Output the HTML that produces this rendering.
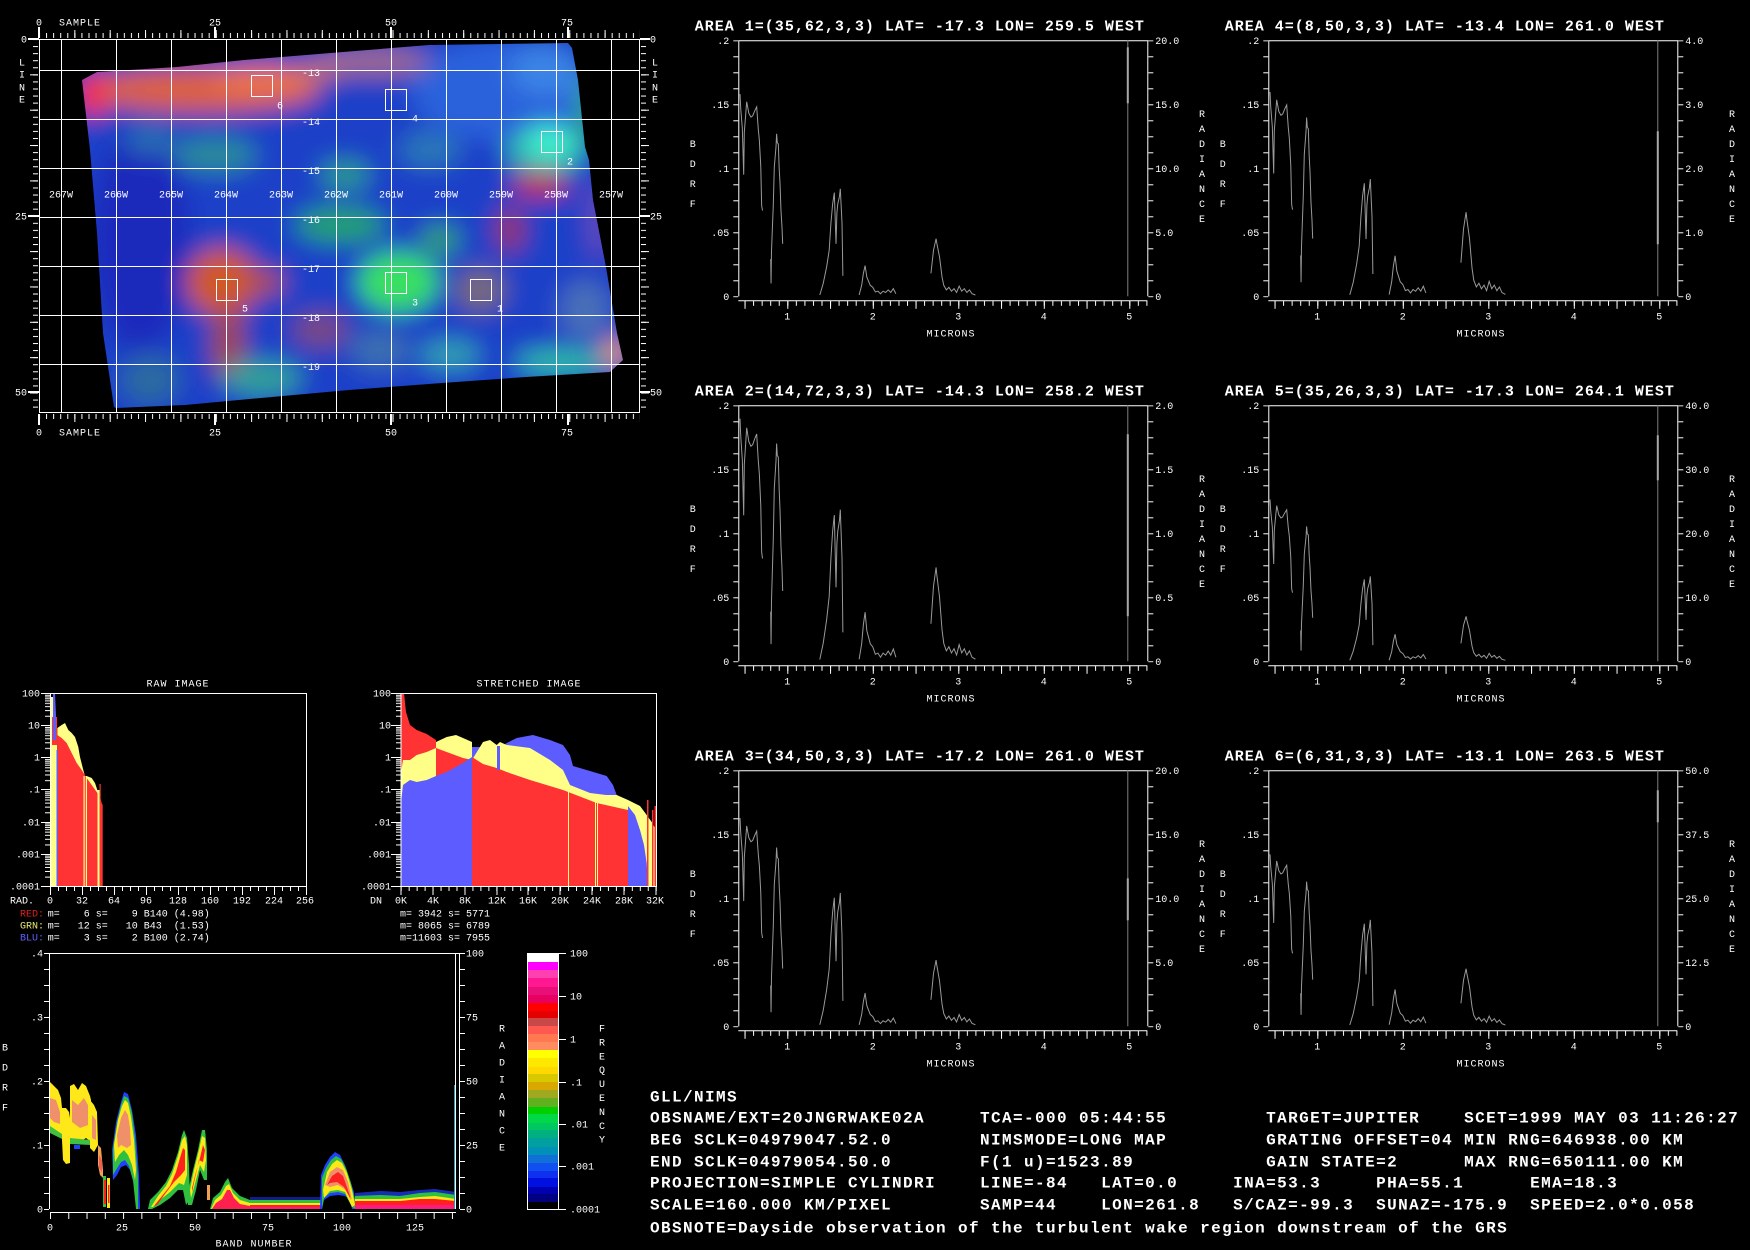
<!DOCTYPE html>
<html><head><meta charset="utf-8"><style>
html,body{margin:0;padding:0;background:#000;width:1750px;height:1250px;overflow:hidden}
svg{display:block}
.s{font-family:"Liberation Mono",monospace;font-size:10px;fill:#fff}
.a{font-family:"Liberation Mono",monospace;font-size:10px;fill:#fff;letter-spacing:1px}
.t{font-family:"Liberation Mono",monospace;font-size:15px;font-weight:bold;fill:#fff;letter-spacing:1px}
.b{font-family:"Liberation Mono",monospace;font-size:16px;font-weight:bold;fill:#fff;letter-spacing:1.4px;white-space:pre}
.m{text-anchor:middle}
.e{text-anchor:end}
.p{white-space:pre}
</style></head><body>
<svg width="1750" height="1250" viewBox="0 0 1750 1250" xmlns="http://www.w3.org/2000/svg">
<defs>
<filter id="blur" x="-10%" y="-10%" width="120%" height="120%"><feGaussianBlur stdDeviation="12"/></filter>
<clipPath id="imgclip"><polygon points="82,80 97,72 177,67 244,60 269,58 343,52 429,45 568,43 572,48 578,80 585,147 589,160 593,200 606,267 617,333 623,360 610,372 526,377 442,383 349,390 261,398 185,405 116,408 114,407 103,333 97,233 90,150"/></clipPath>
<pattern id="ptx7" x="39" y="0" width="7.07" height="20" patternUnits="userSpaceOnUse"><rect width="1" height="20" fill="#fff"/></pattern>
<pattern id="ptx35" x="39" y="0" width="35.35" height="20" patternUnits="userSpaceOnUse"><rect width="1" height="20" fill="#fff"/></pattern>
<pattern id="pty7" x="0" y="39" width="20" height="7.07" patternUnits="userSpaceOnUse"><rect width="20" height="1" fill="#fff"/></pattern>
<pattern id="pty35" x="0" y="39" width="20" height="35.35" patternUnits="userSpaceOnUse"><rect width="20" height="1" fill="#fff"/></pattern>
<pattern id="py" x="0" y="0" width="20" height="16" patternUnits="userSpaceOnUse"><rect width="20" height="1" fill="#fff"/></pattern>
<pattern id="px" x="6.25" y="0" width="8.55" height="20" patternUnits="userSpaceOnUse"><rect width="1" height="20" fill="#fff"/></pattern>
<pattern id="pxl" x="6.25" y="0" width="42.75" height="20" patternUnits="userSpaceOnUse"><rect width="1" height="20" fill="#fff"/></pattern>
<pattern id="plog" x="0" y="693.3" width="20" height="32.17" patternUnits="userSpaceOnUse">
<rect y="1.47" width="20" height="1" fill="#fff"/><rect y="3.12" width="20" height="1" fill="#fff"/><rect y="4.98" width="20" height="1" fill="#fff"/><rect y="7.1" width="20" height="1" fill="#fff"/><rect y="9.65" width="20" height="1" fill="#fff"/><rect y="12.8" width="20" height="1" fill="#fff"/><rect y="16.82" width="20" height="1" fill="#fff"/><rect y="22.48" width="20" height="1" fill="#fff"/></pattern>
<pattern id="phr" x="50" y="0" width="8" height="20" patternUnits="userSpaceOnUse"><rect width="1" height="20" fill="#fff"/></pattern>
<pattern id="phs" x="400.7" y="0" width="7.97" height="20" patternUnits="userSpaceOnUse"><rect width="1" height="20" fill="#fff"/></pattern>
<pattern id="pdy" x="0" y="953" width="20" height="16" patternUnits="userSpaceOnUse"><rect width="20" height="1" fill="#fff"/></pattern>
<pattern id="pdx" x="50" y="0" width="18.27" height="20" patternUnits="userSpaceOnUse"><rect width="1" height="20" fill="#fff"/></pattern>
<path id="c1a" vector-effect="non-scaling-stroke" d="M0.447,0.158 L0.455,0.147 L0.474,0.131 L0.49,0.095 L0.497,0.128 L0.525,0.152 L0.55,0.143 L0.575,0.14 L0.595,0.141 L0.62,0.145 L0.642,0.148 L0.66,0.131 L0.673,0.122 L0.69,0.101 L0.70,0.071 L0.71,0.067"/>
<path id="c1b" vector-effect="non-scaling-stroke" d="M0.806,0.029 L0.81,0.010 L0.815,0.035 L0.836,0.071 L0.848,0.101 L0.868,0.117 L0.875,0.127 L0.883,0.12 L0.895,0.119 L0.905,0.1 L0.915,0.088 L0.926,0.067 L0.938,0.054 L0.946,0.041"/>
<path id="c2" vector-effect="non-scaling-stroke" d="M1.38,0.001 L1.42,0.01 L1.46,0.023 L1.49,0.036 L1.51,0.057 L1.53,0.072 L1.55,0.081 L1.57,0.041 L1.58,0.065 L1.59,0.072 L1.61,0.078 L1.62,0.084 L1.64,0.057 L1.65,0.016"/>
<path id="c3" vector-effect="non-scaling-stroke" d="M1.84,0.001 L1.87,0.0086 L1.89,0.018 L1.91,0.024 L1.93,0.015 L1.97,0.0086 L2.0,0.007 L2.03,0.0034 L2.06,0.004 L2.09,0.002 L2.12,0.004 L2.15,0.003 L2.18,0.005 L2.21,0.003 L2.24,0.006 L2.27,0.002"/>
<path id="c4" vector-effect="non-scaling-stroke" d="M2.68,0.018 L2.71,0.036 L2.74,0.045 L2.75,0.041 L2.78,0.031 L2.81,0.015 L2.83,0.0086 L2.86,0.005 L2.89,0.007 L2.92,0.004 L2.95,0.006 L2.98,0.003 L3.01,0.008 L3.04,0.004 L3.07,0.006 L3.10,0.003 L3.13,0.005 L3.16,0.002 L3.2,0.001"/>
</defs>
<rect width="1750" height="1250" fill="#000"/>

<!-- ============ MAIN IMAGE ============ -->
<g clip-path="url(#imgclip)"><g filter="url(#blur)">
<rect x="50" y="20" width="610" height="420" fill="#1f3fc8"/>
<ellipse cx="140" cy="240" rx="50" ry="110" fill="#1a2cbc"/>
<ellipse cx="500" cy="90" rx="90" ry="50" fill="#2a62dc"/>
<ellipse cx="545" cy="70" rx="35" ry="25" fill="#3a84e6"/>
<ellipse cx="200" cy="90" rx="120" ry="22" fill="#dc603e"/>
<ellipse cx="92" cy="95" rx="14" ry="22" fill="#ff2a2a"/>
<ellipse cx="262" cy="80" rx="50" ry="15" fill="#ec7248"/>
<ellipse cx="375" cy="62" rx="55" ry="14" fill="#a06a8c"/>
<ellipse cx="320" cy="70" rx="25" ry="10" fill="#c07070"/>
<ellipse cx="586" cy="110" rx="7" ry="35" fill="#30c040"/>
<ellipse cx="545" cy="150" rx="40" ry="25" fill="#30b0b0"/>
<ellipse cx="550" cy="142" rx="24" ry="17" fill="#40f4cc"/>
<ellipse cx="540" cy="185" rx="28" ry="12" fill="#c42848"/>
<ellipse cx="510" cy="230" rx="14" ry="22" fill="#983060"/>
<ellipse cx="598" cy="220" rx="10" ry="40" fill="#6a4ab8"/>
<ellipse cx="215" cy="155" rx="42" ry="18" fill="#2a8a9a"/>
<ellipse cx="150" cy="140" rx="25" ry="14" fill="#2a70b0"/>
<ellipse cx="340" cy="225" rx="45" ry="18" fill="#22a070"/>
<ellipse cx="345" cy="175" rx="25" ry="15" fill="#2a9a8a"/>
<ellipse cx="440" cy="240" rx="20" ry="15" fill="#30a070"/>
<ellipse cx="430" cy="150" rx="30" ry="18" fill="#2a78b8"/>
<ellipse cx="398" cy="282" rx="40" ry="30" fill="#38e060"/>
<ellipse cx="222" cy="282" rx="36" ry="34" fill="#d05828"/>
<ellipse cx="265" cy="282" rx="20" ry="12" fill="#b05040"/>
<ellipse cx="228" cy="345" rx="16" ry="40" fill="#a04848"/>
<ellipse cx="262" cy="378" rx="40" ry="18" fill="#30a098"/>
<ellipse cx="320" cy="330" rx="28" ry="18" fill="#7a4880"/>
<ellipse cx="380" cy="350" rx="30" ry="20" fill="#3a70b0"/>
<ellipse cx="480" cy="290" rx="25" ry="22" fill="#786a78"/>
<ellipse cx="450" cy="355" rx="30" ry="15" fill="#30a0b0"/>
<ellipse cx="585" cy="310" rx="25" ry="30" fill="#4a70b8"/>
<ellipse cx="560" cy="362" rx="45" ry="12" fill="#30c0a0"/>
<ellipse cx="615" cy="352" rx="12" ry="14" fill="#f0a048"/>
<ellipse cx="150" cy="380" rx="30" ry="25" fill="#2a6aa0"/>
</g></g>

<!-- grid -->
<g stroke="#fff" stroke-width="1" fill="none">
<rect x="39.5" y="39.5" width="600" height="373"/>
<path d="M61.5,39V412 M116.5,39V412 M171.5,39V412 M226.5,39V412 M281.5,39V412 M336.5,39V412 M391.5,39V412 M446.5,39V412 M501.5,39V412 M556.5,39V412 M611.5,39V412"/>
<path d="M39,70.5H639 M39,119.5H639 M39,168.5H639 M39,217.5H639 M39,266.5H639 M39,315.5H639 M39,364.5H639"/>
<rect x="251.5" y="75.5" width="21" height="21"/>
<rect x="385.5" y="89.5" width="21" height="21"/>
<rect x="541.5" y="131.5" width="21" height="21"/>
<rect x="216.5" y="279.5" width="21" height="21"/>
<rect x="385.5" y="272.5" width="21" height="21"/>
<rect x="470.5" y="279.5" width="21" height="21"/>
</g>
<!-- rulers -->
<rect x="39" y="33" width="601" height="5" fill="url(#ptx7)"/>
<rect x="39" y="30" width="601" height="8" fill="url(#ptx35)"/>
<rect x="39" y="414" width="601" height="5" fill="url(#ptx7)"/>
<rect x="39" y="414" width="601" height="8" fill="url(#ptx35)"/>
<rect x="33" y="39" width="5" height="374" fill="url(#pty7)"/>
<rect x="30" y="39" width="8" height="374" fill="url(#pty35)"/>
<rect x="641" y="39" width="5" height="374" fill="url(#pty7)"/>
<rect x="641" y="39" width="8" height="374" fill="url(#pty35)"/>
<g fill="#fff">
<rect x="38" y="27" width="2" height="11"/><rect x="214" y="27" width="2" height="11"/><rect x="390" y="27" width="2" height="11"/><rect x="567" y="27" width="2" height="11"/>
<rect x="38" y="414" width="2" height="11"/><rect x="214" y="414" width="2" height="11"/><rect x="390" y="414" width="2" height="11"/><rect x="567" y="414" width="2" height="11"/>
<rect x="28" y="38" width="11" height="2"/><rect x="28" y="215" width="11" height="2"/><rect x="28" y="391" width="11" height="2"/>
<rect x="640" y="38" width="10" height="2"/><rect x="640" y="215" width="10" height="2"/><rect x="640" y="391" width="10" height="2"/>
</g>
<!-- image labels -->
<text class="s m" x="39" y="25.5">0</text><text class="a" x="59" y="25.5">SAMPLE</text>
<text class="s m" x="215" y="25.5">25</text><text class="s m" x="391" y="25.5">50</text><text class="s m" x="567" y="25.5">75</text>
<text class="s m" x="39" y="435.5">0</text><text class="a" x="59" y="435.5">SAMPLE</text>
<text class="s m" x="215" y="435.5">25</text><text class="s m" x="391" y="435.5">50</text><text class="s m" x="567" y="435.5">75</text>
<text class="s e" x="27" y="42.5">0</text><text class="s e" x="27" y="219.5">25</text><text class="s e" x="27" y="395.5">50</text>
<text class="s m" x="22" y="65.5">L</text><text class="s m" x="22" y="77.5">I</text><text class="s m" x="22" y="90.5">N</text><text class="s m" x="22" y="102.5">E</text>
<text class="s" x="650" y="42.5">0</text><text class="s" x="650" y="219.5">25</text><text class="s" x="650" y="395.5">50</text>
<text class="s m" x="655" y="65.5">L</text><text class="s m" x="655" y="77.5">I</text><text class="s m" x="655" y="90.5">N</text><text class="s m" x="655" y="102.5">E</text>
<g>
<text x="61" y="197.5" class="s m">267W</text><text x="116" y="197.5" class="s m">266W</text><text x="171" y="197.5" class="s m">265W</text><text x="226" y="197.5" class="s m">264W</text><text x="281" y="197.5" class="s m">263W</text><text x="336" y="197.5" class="s m">262W</text><text x="391" y="197.5" class="s m">261W</text><text x="446" y="197.5" class="s m">260W</text><text x="501" y="197.5" class="s m">259W</text><text x="556" y="197.5" class="s m">258W</text><text x="611" y="197.5" class="s m">257W</text>
<text x="311" y="76" class="s m">-13</text><text x="311" y="125" class="s m">-14</text><text x="311" y="174" class="s m">-15</text><text x="311" y="223" class="s m">-16</text><text x="311" y="272" class="s m">-17</text><text x="311" y="321" class="s m">-18</text><text x="311" y="370" class="s m">-19</text>
<text x="280" y="108.5" class="s m">6</text><text x="415" y="121.5" class="s m">4</text><text x="570" y="164.5" class="s m">2</text><text x="245" y="311.5" class="s m">5</text><text x="415" y="305.5" class="s m">3</text><text x="500" y="311.5" class="s m">1</text>
</g>

<!-- ============ RAW IMAGE HISTOGRAM ============ -->
<text class="a m" x="178" y="686.5">RAW IMAGE</text>
<rect x="50" y="697" width="3" height="189" fill="#ffff88"/>
<rect x="52" y="745" width="5" height="141" fill="#ffff88"/>
<rect x="52" y="717" width="5" height="28" fill="#ff3333"/>
<polygon points="53,740 53,693 55,693 56,715 56,740" fill="#5c5cff"/>
<path d="M57.3,886 L57.3,728 L61.7,725 L65,723 L68.3,730 L71.7,733 L75,737 L78.3,747 L80,757 L83.3,770 L85,776 L86.7,776 L91.7,778 L95,783 L97.7,791 L98.7,797 L98.7,886 Z" fill="#ffff88"/>
<path d="M57.3,886 L57.3,735 L61.7,738 L66.7,743 L71.7,753 L76.7,763 L81.7,770 L86.7,778 L91.7,785 L96.7,792 L100,797 L101.7,803 L102.7,805 L102.7,886 Z" fill="#ff3333"/>
<rect x="56.5" y="750" width="1.5" height="136" fill="#5c5cff"/>
<rect x="83.5" y="776" width="1.2" height="110" fill="#ffff88"/>
<rect x="85.8" y="776" width="1.2" height="110" fill="#ffff88"/>
<rect x="97.5" y="790" width="2" height="96" fill="#ffff88"/>
<rect x="99.5" y="784" width="1.2" height="20" fill="#ff3333"/>
<path d="M50.5,886 V693.5 H306.5 V886.5 H50" fill="none" stroke="#fff"/>
<rect x="45" y="693" width="5" height="194" fill="url(#plog)"/>
<path d="M41,693.5H50 M41,725.5H50 M41,757.5H50 M41,789.5H50 M41,822.5H50 M41,854.5H50 M41,886.5H50" stroke="#fff"/>
<rect x="50" y="886" width="257" height="5" fill="url(#phr)"/>
<path d="M50.5,886V895 M82.5,886V895 M114.5,886V895 M146.5,886V895 M178.5,886V895 M210.5,886V895 M242.5,886V895 M274.5,886V895 M306.5,886V895" stroke="#fff"/>
<text class="s e" x="40" y="696.5">100</text><text class="s e" x="40" y="728.5">10</text><text class="s e" x="40" y="760.5">1</text><text class="s e" x="40" y="792.5">.1</text><text class="s e" x="40" y="825.5">.01</text><text class="s e" x="40" y="857.5">.001</text><text class="s e" x="40" y="889.5">.0001</text>
<text class="s" x="10" y="903.5">RAD.</text>
<text class="s m" x="50" y="903.5">0</text><text class="s m" x="82" y="903.5">32</text><text class="s m" x="114" y="903.5">64</text><text class="s m" x="146" y="903.5">96</text><text class="s m" x="178" y="903.5">128</text><text class="s m" x="210" y="903.5">160</text><text class="s m" x="242" y="903.5">192</text><text class="s m" x="274" y="903.5">224</text><text class="s m" x="305" y="903.5">256</text>
<text class="s" x="20" y="916.5" style="fill:#e02020">RED:</text><text class="s p" xml:space="preserve" x="47.7" y="916.5">m=    6 s=    9 B140 (4.98)</text>
<text class="s" x="20" y="928.5" style="fill:#e8e870">GRN:</text><text class="s p" xml:space="preserve" x="47.7" y="928.5">m=   12 s=   10 B43  (1.53)</text>
<text class="s" x="20" y="940.5" style="fill:#6060ff">BLU:</text><text class="s p" xml:space="preserve" x="47.7" y="940.5">m=    3 s=    2 B100 (2.74)</text>

<!-- ============ STRETCHED HISTOGRAM ============ -->
<text class="a m" x="529" y="686.5">STRETCHED IMAGE</text>
<path d="M401,886 L401,693 L404,693 L406,712 L410,725 L416.7,730 L426.7,734 L436,740 L436,886 Z" fill="#ff3333"/>
<path d="M401,886 L401,773 L403,760 L410,760 L416.7,755 L426.7,752 L436,748 L436,886 Z" fill="#ffff88"/>
<path d="M401,886 L401,803 L403,785 L410,780 L416.7,782 L426.7,780 L436,776 L436,886 Z" fill="#5c5cff"/>
<path d="M436,886 L436,742 L446.7,737 L456,735 L463,738 L472,742 L472,886 Z" fill="#ffff88"/>
<path d="M436,886 L436,748 L446.7,752 L463,758 L472,760 L472,886 Z" fill="#ff3333"/>
<path d="M436,886 L436,776 L446.7,772 L463,763 L472,757 L472,886 Z" fill="#5c5cff"/>
<path d="M472,886 L472,747 L483,747 L490,748 L496.7,746 L500,748 L506.7,743 L516.7,738 L533,735 L550,740 L563,745 L570,755 L573,766 L590,771 L606.7,776 L613,785 L616.7,795 L628,806 L628,886 Z" fill="#5c5cff"/>
<path d="M472,886 L472,760 L483,742 L490,740 L496.7,745 L500,742 L506.7,745 L530,748 L550,760 L563,770 L570,785 L590,793 L606,795 L616.7,795 L628,800 L628,886 Z" fill="#ffff88"/>
<path d="M472,886 L472,757 L483,764 L496.7,768 L506.7,772 L530,780 L563,790 L596.7,803 L628,810 L628,886 Z" fill="#ff3333"/>
<rect x="497" y="746" width="3" height="24" fill="#5c5cff"/>
<rect x="568" y="790" width="1" height="96" fill="#ffff88"/><rect x="595" y="800" width="1" height="86" fill="#ffff88"/><rect x="597" y="800" width="1" height="86" fill="#ffff88"/>
<path d="M628,886 L628,800 L640,806 L646.7,815 L651.7,822 L656,830 L656,886 Z" fill="#ffff88"/>
<path d="M628,886 L628,806 L635,815 L640,830 L644,845 L646.7,863 L648,886 Z" fill="#5c5cff"/>
<rect x="647" y="800" width="1.5" height="86" fill="#ff3333"/><rect x="652" y="810" width="1.5" height="76" fill="#ff3333"/><rect x="654.5" y="806" width="1.5" height="80" fill="#ff3333"/>
<path d="M401,886 V693.5 H656.5 V886.5 H400.5" fill="none" stroke="#fff"/>
<rect x="396" y="693" width="5" height="194" fill="url(#plog)"/>
<path d="M391,693.5H401 M391,725.5H401 M391,757.5H401 M391,789.5H401 M391,822.5H401 M391,854.5H401 M391,886.5H401" stroke="#fff"/>
<rect x="400.7" y="886" width="257" height="5" fill="url(#phs)"/>
<path d="M401,886V895 M433,886V895 M465,886V895 M497,886V895 M528,886V895 M560,886V895 M592,886V895 M624,886V895 M656,886V895" stroke="#fff"/>
<text class="s e" x="391" y="696.5">100</text><text class="s e" x="391" y="728.5">10</text><text class="s e" x="391" y="760.5">1</text><text class="s e" x="391" y="792.5">.1</text><text class="s e" x="391" y="825.5">.01</text><text class="s e" x="391" y="857.5">.001</text><text class="s e" x="391" y="889.5">.0001</text>
<text class="s" x="370" y="903.5">DN</text>
<text class="s m" x="401" y="903.5">0K</text><text class="s m" x="433" y="903.5">4K</text><text class="s m" x="465" y="903.5">8K</text><text class="s m" x="497" y="903.5">12K</text><text class="s m" x="528" y="903.5">16K</text><text class="s m" x="560" y="903.5">20K</text><text class="s m" x="592" y="903.5">24K</text><text class="s m" x="624" y="903.5">28K</text><text class="s m" x="655" y="903.5">32K</text>
<text class="s p" xml:space="preserve" x="400" y="916.5">m= 3942 s= 5771</text>
<text class="s p" xml:space="preserve" x="400" y="928.5">m= 8065 s= 6789</text>
<text class="s p" xml:space="preserve" x="400" y="940.5">m=11603 s= 7955</text>

<!-- ============ DENSITY PLOT ============ -->
<g>
<polygon points="50,1082 54,1086 58,1090 61,1098 62,1108 62,1136 58,1134 54,1132 50,1128" fill="#ffe81a"/>
<polygon points="50,1126 62,1134 62,1139 50,1133" fill="#40c040"/>
<polygon points="62,1108 66,1108 69,1112 70,1118 70,1163 66,1164 63,1160 62,1140" fill="#ffe81a"/>
<polygon points="70,1086 74,1084 78,1090 82,1083 86,1086 90,1096 91,1100 91,1142 86,1138 80,1142 75,1140 70,1140" fill="#ffe81a"/>
<polygon points="70,1138 91,1140 91,1145 70,1144" fill="#40c040"/>
<rect x="74" y="1145" width="6" height="4" fill="#2040ff"/>
<polygon points="90,1100 94,1105 97,1112 98,1145 94,1152 90,1148" fill="#ffe81a"/>
<polygon points="98,1145 101,1148 103,1170 103,1178 100,1175 98,1165" fill="#f0a050"/>
<polygon points="50,1098 56,1100 60,1112 60,1124 54,1122 50,1118" fill="#f0906a"/>
<polygon points="72,1100 78,1105 84,1098 88,1105 88,1125 80,1128 72,1122" fill="#f0906a"/>
<polygon points="92,1115 96,1120 96,1140 92,1138" fill="#f0906a"/>
<polygon points="99,1155 102,1160 102,1172 99,1168" fill="#f06050"/>
<rect x="103" y="1176" width="3" height="31" fill="#30c040"/>
<rect x="104" y="1180" width="2" height="24" fill="#ff2020"/>
<rect x="107" y="1178" width="3" height="30" fill="#ffe81a"/>
<rect x="108" y="1185" width="1.5" height="18" fill="#ff2020"/>
<polygon points="112,1150 116,1122 121,1102 124,1092 128,1094 132,1110 136,1135 139,1175 140,1209 137,1209 134,1185 130,1170 126,1165 121,1167 117,1175 113,1180" fill="#2040ff"/>
<polygon points="113,1148 117,1122 121,1105 124,1096 128,1098 132,1113 135,1138 138,1180 138,1209 136,1209 133,1180 129,1166 125,1160 121,1162 116,1170 113,1175" fill="#30c040"/>
<polygon points="114,1145 118,1120 122,1106 125,1100 128,1103 131,1117 134,1140 136,1170 135,1180 132,1165 128,1155 124,1150 119,1155 115,1162" fill="#ffe81a"/>
<polygon points="117,1135 121,1118 125,1110 128,1115 130,1128 131,1145 127,1148 121,1145 118,1148" fill="#f0906a"/>
<polygon points="148,1209 150,1200 158,1192 166,1182 172,1170 178,1152 182,1135 184,1130 187,1138 189,1165 190,1200 186,1205 183,1190 178,1190 170,1198 160,1205 152,1209" fill="#30c040"/>
<polygon points="151,1207 158,1196 166,1186 172,1174 178,1156 182,1140 185,1136 187,1145 187,1175 184,1185 179,1183 170,1192 160,1200 153,1207" fill="#ffe81a"/>
<polygon points="154,1206 162,1196 170,1186 176,1172 180,1158 183,1148 185,1150 185,1170 181,1175 174,1182 165,1194 157,1205" fill="#ff2020"/>
<polygon points="188,1192 193,1170 198,1150 202,1130 205,1130 207,1150 207,1180 204,1180 200,1170 196,1190 192,1205 188,1205" fill="#30c040"/>
<polygon points="190,1190 194,1170 199,1150 202,1136 205,1138 206,1160 204,1172 200,1165 196,1180 191,1198" fill="#ffe81a"/>
<polygon points="192,1188 196,1172 200,1158 203,1145 205,1150 203,1162 199,1160 195,1178 192,1192" fill="#ff2020"/>
<rect x="207" y="1185" width="3" height="15" fill="#f0a050"/>
<polygon points="210,1209 213,1198 220,1192 225,1182 228,1178 232,1188 240,1196 250,1200 250,1209" fill="#30c040"/>
<polygon points="211,1209 215,1200 221,1195 226,1186 229,1184 233,1193 240,1200 250,1203 250,1209" fill="#ffe81a"/>
<polygon points="212,1209 216,1203 222,1199 227,1190 230,1190 234,1198 240,1204 250,1206 250,1209" fill="#ff2050"/>
<rect x="250" y="1197" width="71" height="3" fill="#2030e0" opacity="0.6"/>
<rect x="250" y="1200" width="71" height="3" fill="#30c040"/>
<rect x="250" y="1203" width="71" height="2" fill="#ffe81a"/>
<rect x="250" y="1205" width="71" height="2" fill="#ff2020"/>
<rect x="250" y="1207" width="71" height="2" fill="#ff1a80"/>
<polygon points="320,1209 321,1175 325,1165 330,1157 335,1152 340,1155 345,1165 350,1180 354,1192 356,1209 352,1209 350,1200 345,1196 338,1195 330,1196 324,1200 322,1209" fill="#2040ff"/>
<polygon points="322,1209 322,1178 326,1168 331,1160 336,1156 341,1159 346,1168 351,1183 355,1200 355,1209 352,1207 345,1194 338,1192 330,1193 324,1198" fill="#30c040"/>
<polygon points="323,1190 327,1172 332,1164 337,1160 342,1163 347,1173 352,1190 355,1205 352,1207 345,1192 338,1190 330,1191 324,1198" fill="#ffe81a"/>
<polygon points="325,1185 330,1172 337,1167 343,1170 348,1182 352,1200 346,1190 338,1185 330,1187" fill="#f0906a"/>
<polygon points="327,1185 332,1176 338,1172 343,1176 348,1190 351,1200 344,1187 337,1182 330,1183" fill="#ff2020"/>
<polygon points="355,1193 380,1191 400,1192 420,1190 435,1189 456,1192 456,1209 355,1209" fill="#2040ff" opacity="0.7"/>
<polygon points="355,1196 380,1195 400,1196 420,1193 435,1192 456,1195 456,1209 355,1209" fill="#30c040"/>
<polygon points="355,1199 380,1199 400,1199 420,1197 435,1196 456,1199 456,1209 355,1209" fill="#ffe81a"/>
<polygon points="355,1201 380,1201 400,1201 420,1199 435,1199 456,1201 456,1209 355,1209" fill="#ff2020"/>
<polygon points="355,1205 456,1205 456,1209 355,1209" fill="#ff1a80"/>
<rect x="454" y="1085" width="1.5" height="124" fill="#20a0c0"/>
</g>
<path d="M49.5,1209 V953.5 H459.5 V1209 M455.5,953 V1209" fill="none" stroke="#fff"/>
<rect x="44" y="953" width="5" height="257" fill="url(#pdy)"/>
<rect x="460" y="953" width="5" height="257" fill="url(#pdy)"/>
<line x1="50" y1="1212.5" x2="456" y2="1212.5" stroke="#fff"/>
<rect x="50" y="1212" width="407" height="7" fill="url(#pdx)"/>
<text class="s e" x="43" y="956.5">.4</text><text class="s e" x="43" y="1020.5">.3</text><text class="s e" x="43" y="1084.5">.2</text><text class="s e" x="43" y="1148.5">.1</text><text class="s e" x="43" y="1212.5">0</text>
<text class="s" x="466" y="956.5">100</text><text class="s" x="466" y="1020.5">75</text><text class="s" x="466" y="1084.5">50</text><text class="s" x="466" y="1148.5">25</text><text class="s" x="466" y="1212.5">0</text>
<text class="s m" x="50" y="1230.5">0</text><text class="s m" x="122" y="1230.5">25</text><text class="s m" x="195" y="1230.5">50</text><text class="s m" x="268" y="1230.5">75</text><text class="s m" x="342" y="1230.5">100</text><text class="s m" x="415" y="1230.5">125</text>
<text class="a m" x="254" y="1246.5">BAND NUMBER</text>
<text class="s m" x="5" y="1050.5">B</text><text class="s m" x="5" y="1070.5">D</text><text class="s m" x="5" y="1090.5">R</text><text class="s m" x="5" y="1110.5">F</text>

<!-- ============ COLOR BAR ============ -->
<g>
<rect x="527" y="953" width="31" height="9" fill="#ffffff"/>
<rect x="527" y="962" width="31" height="8" fill="#ff00ff"/>
<rect x="527" y="970" width="31" height="8" fill="#ff40b0"/>
<rect x="527" y="978" width="31" height="9" fill="#ff1890"/>
<rect x="527" y="987" width="31" height="8" fill="#e81078"/>
<rect x="527" y="995" width="31" height="8" fill="#e80060"/>
<rect x="527" y="1003" width="31" height="8" fill="#ff0000"/>
<rect x="527" y="1011" width="31" height="7" fill="#e40000"/>
<rect x="527" y="1018" width="31" height="8" fill="#c84848"/>
<rect x="527" y="1026" width="31" height="8" fill="#ff5850"/>
<rect x="527" y="1034" width="31" height="8" fill="#ff7850"/>
<rect x="527" y="1042" width="31" height="8" fill="#ff8c60"/>
<rect x="527" y="1050" width="31" height="8" fill="#ffff00"/>
<rect x="527" y="1058" width="31" height="9" fill="#ffe800"/>
<rect x="527" y="1067" width="31" height="7" fill="#ffd800"/>
<rect x="527" y="1074" width="31" height="8" fill="#d8c800"/>
<rect x="527" y="1082" width="31" height="8" fill="#d8a800"/>
<rect x="527" y="1090" width="31" height="8" fill="#a0a820"/>
<rect x="527" y="1098" width="31" height="9" fill="#60b020"/>
<rect x="527" y="1107" width="31" height="7" fill="#00d000"/>
<rect x="527" y="1114" width="31" height="9" fill="#00d848"/>
<rect x="527" y="1123" width="31" height="7" fill="#00c860"/>
<rect x="527" y="1130" width="31" height="8" fill="#00b080"/>
<rect x="527" y="1138" width="31" height="9" fill="#00a0a0"/>
<rect x="527" y="1147" width="31" height="8" fill="#0090b8"/>
<rect x="527" y="1155" width="31" height="8" fill="#1070d8"/>
<rect x="527" y="1163" width="31" height="8" fill="#1050f0"/>
<rect x="527" y="1171" width="31" height="7" fill="#1030f0"/>
<rect x="527" y="1178" width="31" height="9" fill="#0010e0"/>
<rect x="527" y="1187" width="31" height="7" fill="#0000b0"/>
<rect x="527" y="1194" width="31" height="8" fill="#000080"/>
<rect x="527" y="1202" width="31" height="8" fill="#000000"/>
<rect x="527.5" y="953.5" width="31" height="256" fill="none" stroke="#fff"/>
<path d="M558,953.5H566 M558,996.5H566 M558,1039.5H566 M558,1082.5H566 M558,1124.5H566 M558,1166.5H566 M558,1209.5H566" stroke="#fff"/>
</g>
<text class="s" x="570" y="956.5">100</text><text class="s" x="570" y="999.5">10</text><text class="s" x="570" y="1042.5">1</text><text class="s" x="570" y="1085.5">.1</text><text class="s" x="570" y="1127.5">.01</text><text class="s" x="570" y="1169.5">.001</text><text class="s" x="570" y="1212.5">.0001</text>
<g>
<text class="s m" x="502" y="1031.5">R</text><text class="s m" x="502" y="1048.5">A</text><text class="s m" x="502" y="1065.5">D</text><text class="s m" x="502" y="1082.5">I</text><text class="s m" x="502" y="1099.5">A</text><text class="s m" x="502" y="1116.5">N</text><text class="s m" x="502" y="1133.5">C</text><text class="s m" x="502" y="1150.5">E</text>
<text class="s m" x="602" y="1031.5">F</text><text class="s m" x="602" y="1045.4">R</text><text class="s m" x="602" y="1059.3">E</text><text class="s m" x="602" y="1073.2">Q</text><text class="s m" x="602" y="1087.1">U</text><text class="s m" x="602" y="1101">E</text><text class="s m" x="602" y="1114.9">N</text><text class="s m" x="602" y="1128.8">C</text><text class="s m" x="602" y="1142.7">Y</text>
</g>

<!-- ============ SPECTRUM PANELS ============ -->
<g transform="translate(738.3,40.3)">
<path d="M0.5,256 V0.5 H409.5 V256" fill="none" stroke="#fff"/>
<rect x="-5" y="0" width="5" height="257" fill="url(#py)"/><rect x="410" y="0" width="5" height="257" fill="url(#py)"/>
<line x1="0" y1="260.5" x2="409" y2="260.5" stroke="#fff"/>
<rect x="0" y="260.5" width="410" height="5" fill="url(#px)"/><rect x="0" y="260.5" width="410" height="8" fill="url(#pxl)"/>
<line x1="389.5" y1="0" x2="389.5" y2="256" stroke="#808080"/><line x1="389.5" y1="7" x2="389.5" y2="63" stroke="#a8a8a8" stroke-width="2"/>
<g transform="translate(-36.5,256) scale(85.5,-1280)" fill="none" stroke="#fff" stroke-opacity="0.6" stroke-width="1">
<use href="#c1a"/><use href="#c1b"/><use href="#c2"/><use href="#c3"/><use href="#c4"/>
</g>
<text class="t" x="-43.5" y="-9.6">AREA 1=(35,62,3,3) LAT= -17.3 LON= 259.5 WEST</text>
<text class="s e" x="-9" y="3.5">.2</text><text class="s e" x="-9" y="67.5">.15</text><text class="s e" x="-9" y="131.5">.1</text><text class="s e" x="-9" y="195.5">.05</text><text class="s e" x="-9" y="259.5">0</text>
<text class="s" x="417" y="3.5">20.0</text><text class="s" x="417" y="67.5">15.0</text><text class="s" x="417" y="131.5">10.0</text><text class="s" x="417" y="195.5">5.0</text><text class="s" x="417" y="259.5">0</text>
<text class="s m" x="49" y="279">1</text><text class="s m" x="134.5" y="279">2</text><text class="s m" x="220" y="279">3</text><text class="s m" x="305.5" y="279">4</text><text class="s m" x="391" y="279">5</text>
<text class="a m" x="212.7" y="296">MICRONS</text>
<text class="s m" x="-45.6" y="106.5">B</text><text class="s m" x="-45.6" y="126.5">D</text><text class="s m" x="-45.6" y="146.5">R</text><text class="s m" x="-45.6" y="166.5">F</text>
<text class="s m" x="463.7" y="76.9">R</text><text class="s m" x="463.7" y="91.9">A</text><text class="s m" x="463.7" y="106.9">D</text><text class="s m" x="463.7" y="121.9">I</text><text class="s m" x="463.7" y="136.9">A</text><text class="s m" x="463.7" y="151.9">N</text><text class="s m" x="463.7" y="166.9">C</text><text class="s m" x="463.7" y="181.9">E</text>
</g>

<g transform="translate(1268.3,40.3)">
<path d="M0.5,256 V0.5 H409.5 V256" fill="none" stroke="#fff"/>
<rect x="-5" y="0" width="5" height="257" fill="url(#py)"/><rect x="410" y="0" width="5" height="257" fill="url(#py)"/>
<line x1="0" y1="260.5" x2="409" y2="260.5" stroke="#fff"/>
<rect x="0" y="260.5" width="410" height="5" fill="url(#px)"/><rect x="0" y="260.5" width="410" height="8" fill="url(#pxl)"/>
<line x1="389.5" y1="0" x2="389.5" y2="256" stroke="#808080"/><line x1="389.5" y1="91" x2="389.5" y2="204" stroke="#a8a8a8" stroke-width="2"/>
<g transform="translate(-36.5,256) scale(85.5,-1280)" fill="none" stroke="#fff" stroke-opacity="0.6" stroke-width="1">
<use href="#c1a" transform="scale(1,1.01)"/><use href="#c1b" transform="scale(1,1.1)"/><use href="#c2" transform="scale(1,1.09)"/><use href="#c3" transform="scale(1,1.32)"/><use href="#c4" transform="scale(1,1.46)"/>
</g>
<text class="t" x="-43.5" y="-9.6">AREA 4=(8,50,3,3) LAT= -13.4 LON= 261.0 WEST</text>
<text class="s e" x="-9" y="3.5">.2</text><text class="s e" x="-9" y="67.5">.15</text><text class="s e" x="-9" y="131.5">.1</text><text class="s e" x="-9" y="195.5">.05</text><text class="s e" x="-9" y="259.5">0</text>
<text class="s" x="417" y="3.5">4.0</text><text class="s" x="417" y="67.5">3.0</text><text class="s" x="417" y="131.5">2.0</text><text class="s" x="417" y="195.5">1.0</text><text class="s" x="417" y="259.5">0</text>
<text class="s m" x="49" y="279">1</text><text class="s m" x="134.5" y="279">2</text><text class="s m" x="220" y="279">3</text><text class="s m" x="305.5" y="279">4</text><text class="s m" x="391" y="279">5</text>
<text class="a m" x="212.7" y="296">MICRONS</text>
<text class="s m" x="-45.6" y="106.5">B</text><text class="s m" x="-45.6" y="126.5">D</text><text class="s m" x="-45.6" y="146.5">R</text><text class="s m" x="-45.6" y="166.5">F</text>
<text class="s m" x="463.7" y="76.9">R</text><text class="s m" x="463.7" y="91.9">A</text><text class="s m" x="463.7" y="106.9">D</text><text class="s m" x="463.7" y="121.9">I</text><text class="s m" x="463.7" y="136.9">A</text><text class="s m" x="463.7" y="151.9">N</text><text class="s m" x="463.7" y="166.9">C</text><text class="s m" x="463.7" y="181.9">E</text>
</g>

<g transform="translate(738.3,405.3)">
<path d="M0.5,256 V0.5 H409.5 V256" fill="none" stroke="#fff"/>
<rect x="-5" y="0" width="5" height="257" fill="url(#py)"/><rect x="410" y="0" width="5" height="257" fill="url(#py)"/>
<line x1="0" y1="260.5" x2="409" y2="260.5" stroke="#fff"/>
<rect x="0" y="260.5" width="410" height="5" fill="url(#px)"/><rect x="0" y="260.5" width="410" height="8" fill="url(#pxl)"/>
<line x1="389.5" y1="0" x2="389.5" y2="256" stroke="#808080"/><line x1="389.5" y1="29" x2="389.5" y2="211" stroke="#a8a8a8" stroke-width="2"/>
<g transform="translate(-36.5,256) scale(85.5,-1280)" fill="none" stroke="#fff" stroke-opacity="0.6" stroke-width="1">
<use href="#c1a" transform="scale(1,1.2)"/><use href="#c1b" transform="scale(1,1.34)"/><use href="#c2" transform="scale(1,1.41)"/><use href="#c3" transform="scale(1,1.6)"/><use href="#c4" transform="scale(1,1.63)"/>
</g>
<text class="t" x="-43.5" y="-9.6">AREA 2=(14,72,3,3) LAT= -14.3 LON= 258.2 WEST</text>
<text class="s e" x="-9" y="3.5">.2</text><text class="s e" x="-9" y="67.5">.15</text><text class="s e" x="-9" y="131.5">.1</text><text class="s e" x="-9" y="195.5">.05</text><text class="s e" x="-9" y="259.5">0</text>
<text class="s" x="417" y="3.5">2.0</text><text class="s" x="417" y="67.5">1.5</text><text class="s" x="417" y="131.5">1.0</text><text class="s" x="417" y="195.5">0.5</text><text class="s" x="417" y="259.5">0</text>
<text class="s m" x="49" y="279">1</text><text class="s m" x="134.5" y="279">2</text><text class="s m" x="220" y="279">3</text><text class="s m" x="305.5" y="279">4</text><text class="s m" x="391" y="279">5</text>
<text class="a m" x="212.7" y="296">MICRONS</text>
<text class="s m" x="-45.6" y="106.5">B</text><text class="s m" x="-45.6" y="126.5">D</text><text class="s m" x="-45.6" y="146.5">R</text><text class="s m" x="-45.6" y="166.5">F</text>
<text class="s m" x="463.7" y="76.9">R</text><text class="s m" x="463.7" y="91.9">A</text><text class="s m" x="463.7" y="106.9">D</text><text class="s m" x="463.7" y="121.9">I</text><text class="s m" x="463.7" y="136.9">A</text><text class="s m" x="463.7" y="151.9">N</text><text class="s m" x="463.7" y="166.9">C</text><text class="s m" x="463.7" y="181.9">E</text>
</g>

<g transform="translate(1268.3,405.3)">
<path d="M0.5,256 V0.5 H409.5 V256" fill="none" stroke="#fff"/>
<rect x="-5" y="0" width="5" height="257" fill="url(#py)"/><rect x="410" y="0" width="5" height="257" fill="url(#py)"/>
<line x1="0" y1="260.5" x2="409" y2="260.5" stroke="#fff"/>
<rect x="0" y="260.5" width="410" height="5" fill="url(#px)"/><rect x="0" y="260.5" width="410" height="8" fill="url(#pxl)"/>
<line x1="389.5" y1="0" x2="389.5" y2="256" stroke="#808080"/><line x1="389.5" y1="30" x2="389.5" y2="75" stroke="#a8a8a8" stroke-width="2"/>
<g transform="translate(-36.5,256) scale(85.5,-1280)" fill="none" stroke="#fff" stroke-opacity="0.6" stroke-width="1">
<use href="#c1a" transform="scale(1,0.8)"/><use href="#c1b" transform="scale(1,0.83)"/><use href="#c2" transform="scale(1,0.79)"/><use href="#c3" transform="scale(1,0.88)"/><use href="#c4" transform="scale(1,0.78)"/>
</g>
<text class="t" x="-43.5" y="-9.6">AREA 5=(35,26,3,3) LAT= -17.3 LON= 264.1 WEST</text>
<text class="s e" x="-9" y="3.5">.2</text><text class="s e" x="-9" y="67.5">.15</text><text class="s e" x="-9" y="131.5">.1</text><text class="s e" x="-9" y="195.5">.05</text><text class="s e" x="-9" y="259.5">0</text>
<text class="s" x="417" y="3.5">40.0</text><text class="s" x="417" y="67.5">30.0</text><text class="s" x="417" y="131.5">20.0</text><text class="s" x="417" y="195.5">10.0</text><text class="s" x="417" y="259.5">0</text>
<text class="s m" x="49" y="279">1</text><text class="s m" x="134.5" y="279">2</text><text class="s m" x="220" y="279">3</text><text class="s m" x="305.5" y="279">4</text><text class="s m" x="391" y="279">5</text>
<text class="a m" x="212.7" y="296">MICRONS</text>
<text class="s m" x="-45.6" y="106.5">B</text><text class="s m" x="-45.6" y="126.5">D</text><text class="s m" x="-45.6" y="146.5">R</text><text class="s m" x="-45.6" y="166.5">F</text>
<text class="s m" x="463.7" y="76.9">R</text><text class="s m" x="463.7" y="91.9">A</text><text class="s m" x="463.7" y="106.9">D</text><text class="s m" x="463.7" y="121.9">I</text><text class="s m" x="463.7" y="136.9">A</text><text class="s m" x="463.7" y="151.9">N</text><text class="s m" x="463.7" y="166.9">C</text><text class="s m" x="463.7" y="181.9">E</text>
</g>

<g transform="translate(738.3,770.3)">
<path d="M0.5,256 V0.5 H409.5 V256" fill="none" stroke="#fff"/>
<rect x="-5" y="0" width="5" height="257" fill="url(#py)"/><rect x="410" y="0" width="5" height="257" fill="url(#py)"/>
<line x1="0" y1="260.5" x2="409" y2="260.5" stroke="#fff"/>
<rect x="0" y="260.5" width="410" height="5" fill="url(#px)"/><rect x="0" y="260.5" width="410" height="8" fill="url(#pxl)"/>
<line x1="389.5" y1="0" x2="389.5" y2="256" stroke="#808080"/><line x1="389.5" y1="108" x2="389.5" y2="150" stroke="#a8a8a8" stroke-width="2"/>
<g transform="translate(-36.5,256) scale(85.5,-1280)" fill="none" stroke="#fff" stroke-opacity="0.6" stroke-width="1">
<use href="#c1a" transform="scale(1,1.03)"/><use href="#c1b" transform="scale(1,1.1)"/><use href="#c2" transform="scale(1,1.24)"/><use href="#c3" transform="scale(1,1.08)"/><use href="#c4" transform="scale(1,1.15)"/>
</g>
<text class="t" x="-43.5" y="-9.6">AREA 3=(34,50,3,3) LAT= -17.2 LON= 261.0 WEST</text>
<text class="s e" x="-9" y="3.5">.2</text><text class="s e" x="-9" y="67.5">.15</text><text class="s e" x="-9" y="131.5">.1</text><text class="s e" x="-9" y="195.5">.05</text><text class="s e" x="-9" y="259.5">0</text>
<text class="s" x="417" y="3.5">20.0</text><text class="s" x="417" y="67.5">15.0</text><text class="s" x="417" y="131.5">10.0</text><text class="s" x="417" y="195.5">5.0</text><text class="s" x="417" y="259.5">0</text>
<text class="s m" x="49" y="279">1</text><text class="s m" x="134.5" y="279">2</text><text class="s m" x="220" y="279">3</text><text class="s m" x="305.5" y="279">4</text><text class="s m" x="391" y="279">5</text>
<text class="a m" x="212.7" y="296">MICRONS</text>
<text class="s m" x="-45.6" y="106.5">B</text><text class="s m" x="-45.6" y="126.5">D</text><text class="s m" x="-45.6" y="146.5">R</text><text class="s m" x="-45.6" y="166.5">F</text>
<text class="s m" x="463.7" y="76.9">R</text><text class="s m" x="463.7" y="91.9">A</text><text class="s m" x="463.7" y="106.9">D</text><text class="s m" x="463.7" y="121.9">I</text><text class="s m" x="463.7" y="136.9">A</text><text class="s m" x="463.7" y="151.9">N</text><text class="s m" x="463.7" y="166.9">C</text><text class="s m" x="463.7" y="181.9">E</text>
</g>

<g transform="translate(1268.3,770.3)">
<path d="M0.5,256 V0.5 H409.5 V256" fill="none" stroke="#fff"/>
<rect x="-5" y="0" width="5" height="257" fill="url(#py)"/><rect x="410" y="0" width="5" height="257" fill="url(#py)"/>
<line x1="0" y1="260.5" x2="409" y2="260.5" stroke="#fff"/>
<rect x="0" y="260.5" width="410" height="5" fill="url(#px)"/><rect x="0" y="260.5" width="410" height="8" fill="url(#pxl)"/>
<line x1="389.5" y1="0" x2="389.5" y2="256" stroke="#808080"/><line x1="389.5" y1="20" x2="389.5" y2="52" stroke="#a8a8a8" stroke-width="2"/>
<g transform="translate(-36.5,256) scale(85.5,-1280)" fill="none" stroke="#fff" stroke-opacity="0.6" stroke-width="1">
<use href="#c1a" transform="scale(1,0.85)"/><use href="#c1b" transform="scale(1,0.89)"/><use href="#c2" transform="scale(1,0.99)"/><use href="#c3" transform="scale(1,1.2)"/><use href="#c4" transform="scale(1,1.0)"/>
</g>
<text class="t" x="-43.5" y="-9.6">AREA 6=(6,31,3,3) LAT= -13.1 LON= 263.5 WEST</text>
<text class="s e" x="-9" y="3.5">.2</text><text class="s e" x="-9" y="67.5">.15</text><text class="s e" x="-9" y="131.5">.1</text><text class="s e" x="-9" y="195.5">.05</text><text class="s e" x="-9" y="259.5">0</text>
<text class="s" x="417" y="3.5">50.0</text><text class="s" x="417" y="67.5">37.5</text><text class="s" x="417" y="131.5">25.0</text><text class="s" x="417" y="195.5">12.5</text><text class="s" x="417" y="259.5">0</text>
<text class="s m" x="49" y="279">1</text><text class="s m" x="134.5" y="279">2</text><text class="s m" x="220" y="279">3</text><text class="s m" x="305.5" y="279">4</text><text class="s m" x="391" y="279">5</text>
<text class="a m" x="212.7" y="296">MICRONS</text>
<text class="s m" x="-45.6" y="106.5">B</text><text class="s m" x="-45.6" y="126.5">D</text><text class="s m" x="-45.6" y="146.5">R</text><text class="s m" x="-45.6" y="166.5">F</text>
<text class="s m" x="463.7" y="76.9">R</text><text class="s m" x="463.7" y="91.9">A</text><text class="s m" x="463.7" y="106.9">D</text><text class="s m" x="463.7" y="121.9">I</text><text class="s m" x="463.7" y="136.9">A</text><text class="s m" x="463.7" y="151.9">N</text><text class="s m" x="463.7" y="166.9">C</text><text class="s m" x="463.7" y="181.9">E</text>
</g>

<!-- ============ BOTTOM TEXT ============ -->
<text class="b" xml:space="preserve" x="650" y="1101.5">GLL/NIMS</text>
<text class="b" xml:space="preserve" x="650" y="1122.5">OBSNAME/EXT=20JNGRWAKE02A     TCA=-000 05:44:55         TARGET=JUPITER    SCET=1999 MAY 03 11:26:27</text>
<text class="b" xml:space="preserve" x="650" y="1144.5">BEG SCLK=04979047.52.0        NIMSMODE=LONG MAP         GRATING OFFSET=04 MIN RNG=646938.00 KM</text>
<text class="b" xml:space="preserve" x="650" y="1166.5">END SCLK=04979054.50.0        F(1 u)=1523.89            GAIN STATE=2      MAX RNG=650111.00 KM</text>
<text class="b" xml:space="preserve" x="650" y="1187.5">PROJECTION=SIMPLE CYLINDRI    LINE=-84   LAT=0.0     INA=53.3     PHA=55.1      EMA=18.3</text>
<text class="b" xml:space="preserve" x="650" y="1209.5">SCALE=160.000 KM/PIXEL        SAMP=44    LON=261.8   S/CAZ=-99.3  SUNAZ=-175.9  SPEED=2.0*0.058</text>
<text class="b" xml:space="preserve" x="650" y="1232.5">OBSNOTE=Dayside observation of the turbulent wake region downstream of the GRS</text>
</svg>
</body></html>
